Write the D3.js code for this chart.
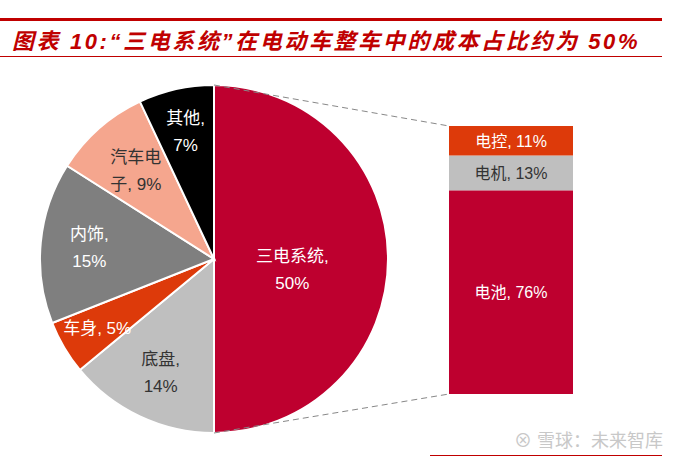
<!DOCTYPE html>
<html><head><meta charset="utf-8">
<script src="https://cdn.jsdelivr.net/npm/d3@7"></script>
<style>body{margin:0;background:#fff}svg{font-family:"Liberation Sans","Noto Sans CJK SC",sans-serif}</style>
</head><body><svg width="680" height="462"></svg>
<script>
// pie: share of whole-vehicle cost
var pieNames = ["三电系统", "底盘", "车身", "内饰", "汽车电子", "其他"];
var pieValues = [50, 14, 5, 15, 9, 7];
var pieColors = ["#BE002F", "#BFBFBF", "#DD3A0A", "#7F7F7F", "#F5A68E", "#000000"];
var pieText = ["#fff", "#333", "#fff", "#fff", "#333", "#fff"];
var pieLabels = [["三电系统,", "50%"], ["底盘,", "14%"], ["车身, 5%"], ["内饰,", "15%"], ["汽车电", "子, 9%"], ["其他,", "7%"]];

// bar: breakdown of the 三电 slice
var barNames = ["电池", "电机", "电控"];
var barValues = [76, 13, 11];
var barColors = ["#BE002F", "#BFBFBF", "#DD3A0A"];
var barText = ["#fff", "#333", "#fff"];

var svg = d3.select("svg");
var cx = 214, cy = 259, r = 174;

// title block
svg.append("rect").attr("x", 0).attr("y", 18).attr("width", 662).attr("height", 3).attr("fill", "#C00000");
svg.append("rect").attr("x", 0).attr("y", 56).attr("width", 662).attr("height", 1).attr("fill", "#C00000");
svg.append("text").attr("x", 12).attr("y", 49)
    .attr("fill", "#C00000").attr("font-size", 22).attr("font-weight", "bold").attr("font-style", "italic")
    .attr("letter-spacing", 2.6)
    .text("图表 10:“三电系统”在电动车整车中的成本占比约为 50%");

var pie = d3.pie().sort(null).value(function (d) { return d; });
var arcs = pie(pieValues);
var arc = d3.arc().innerRadius(0).outerRadius(r);

var g = svg.append("g").attr("transform", "translate(" + cx + "," + cy + ")");
g.selectAll("path").data(arcs).enter().append("path")
    .attr("d", arc)
    .attr("fill", function (d, i) { return pieColors[i]; })
    .attr("stroke", "#fff").attr("stroke-width", 2);

// label positions (fraction of radius along the slice mid-angle)
var labelR = [0.45, 0.72, 0.78, 0.72, 0.68, 0.75];
var labelDy = [10, 0, 0, 0, 0, 0];
arcs.forEach(function (d, i) {
    var a = (d.startAngle + d.endAngle) / 2;
    var x = Math.sin(a) * r * labelR[i], y = -Math.cos(a) * r * labelR[i] + labelDy[i];
    var lines = pieLabels[i];
    var t = g.append("text").attr("text-anchor", "middle").attr("fill", pieText[i]).attr("font-size", 17);
    lines.forEach(function (s, k) {
        t.append("tspan").attr("x", x).attr("y", y + (k - (lines.length - 1) / 2) * 27 + 6).text(s);
    });
});

// stacked bar
var bx = 449, bw = 124, btop = 126, bbot = 394;
var y = d3.scaleLinear().domain([0, 100]).range([bbot, btop]);
var acc = 0;
var stack = barValues.map(function (v) { var s = { y0: acc, y1: acc + v }; acc += v; return s; });
svg.selectAll(".bar").data(stack).enter().append("rect")
    .attr("x", bx).attr("width", bw)
    .attr("y", function (d) { return y(d.y1); })
    .attr("height", function (d) { return y(d.y0) - y(d.y1); })
    .attr("fill", function (d, i) { return barColors[i]; });
svg.selectAll(".blab").data(stack).enter().append("text")
    .attr("x", bx + bw / 2).attr("y", function (d) { return (y(d.y0) + y(d.y1)) / 2 + 6; })
    .attr("text-anchor", "middle").attr("font-size", 16)
    .attr("fill", function (d, i) { return barText[i]; })
    .text(function (d, i) { return barNames[i] + ", " + barValues[i] + "%"; });

// connectors
svg.append("line").attr("x1", cx).attr("y1", cy - r).attr("x2", bx).attr("y2", btop)
    .attr("stroke", "#888").attr("stroke-dasharray", "6,4");
svg.append("line").attr("x1", cx).attr("y1", cy + r).attr("x2", bx).attr("y2", bbot)
    .attr("stroke", "#888").attr("stroke-dasharray", "6,4");

// watermark
svg.append("text").attr("x", 663).attr("y", 447).attr("text-anchor", "end")
    .attr("font-size", 18).attr("fill", "#c8c8c8").text("⊗ 雪球：未来智库");
svg.append("rect").attr("x", 430).attr("y", 455).attr("width", 232).attr("height", 1).attr("fill", "#C00000");
</script></body></html>
